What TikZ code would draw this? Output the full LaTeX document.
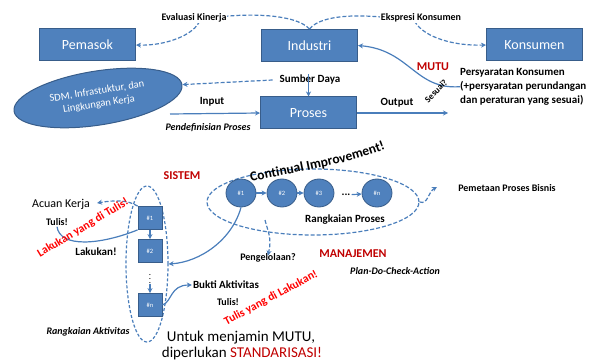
\documentclass[tikz,border=0pt]{standalone}
\usepackage{fontspec}
\setmainfont{Carlito}
\usetikzlibrary{shapes.geometric,arrows.meta,decorations.text}
\definecolor{boxblue}{HTML}{4F81BD}
\definecolor{boxedge}{HTML}{385D8A}
\definecolor{lineblue}{HTML}{4A7EBB}
\definecolor{dred}{HTML}{C00000}
\definecolor{bred}{HTML}{FF0000}
\tikzset{
 bluebox/.style={rectangle, fill=boxblue, draw=boxedge, line width=1pt, text=white, font=\fontsize{14}{16}\selectfont, minimum width=96pt, minimum height=32pt, inner sep=0pt},
 smallbox/.style={rectangle, fill=boxblue, draw=boxedge, line width=0.8pt, text=white, font=\fontsize{6.5}{7}\selectfont, minimum width=24pt, minimum height=23pt, inner sep=0pt},
 proc/.style={ellipse, fill=boxblue, draw=boxedge, line width=0.8pt, text=white, font=\fontsize{6.5}{7}\selectfont, minimum width=30pt, minimum height=28pt, inner sep=0pt},
 conn/.style={draw=lineblue, line width=1.2pt, -{Stealth[length=5pt,width=5pt]}},
 dconn/.style={conn, dash pattern=on 4pt off 2pt},
 plainline/.style={draw=lineblue, line width=1.2pt},
 lbl/.style={font=\bfseries\fontsize{10}{12}\selectfont, inner sep=1pt},
 lblb/.style={font=\bfseries\fontsize{11}{13}\selectfont, inner sep=1pt},
 lbli/.style={font=\bfseries\itshape\fontsize{10}{12}\selectfont, inner sep=1pt},
 redlbl/.style={font=\bfseries\fontsize{12}{14}\selectfont, text=dred, inner sep=1pt},
 rotred/.style={font=\bfseries\fontsize{11.5}{13}\selectfont, text=bred, inner sep=0pt},
}
\begin{document}
\begin{tikzpicture}[x=1pt,y=-1pt]
\useasboundingbox (0,0) rectangle (601,363);
% ---------- top part ----------
\node[bluebox] (pem) at (87.5,45) {Pemasok};
\node[bluebox] (ind) at (309.5,45.5) {Industri};
\node[bluebox] (kon) at (534.5,45) {Konsumen};
\node[bluebox] (pro) at (308.5,113) {Proses};
\node[ellipse, rotate=9, fill=boxblue, draw=boxedge, line width=1pt, text=white, minimum width=170pt, minimum height=54pt, inner sep=0pt, align=center, font=\fontsize{10.5}{13}\selectfont] (ell) at (98,98) {SDM, Infrastuktur, dan\\Lingkungan Kerja};

\draw[dconn] (ind.north) .. controls (295,13) and (240,12) .. (200,20) .. controls (195,35) and (165,46) .. (pem.east);
\draw[dconn] (ind.north) .. controls (322,13) and (370,13) .. (415,22) .. controls (425,38) and (455,46) .. (kon.west);
\node[lbl, fill=white] (eval) at (194,18) {Evaluasi Kinerja};
\node[lbl, fill=white] (eksp) at (421,18) {Ekspresi Konsumen};

\node[lblb] (sd) at (310,80) {Sumber Daya};
\draw[conn] (pro.north |- sd.north) -- (pro.north);
\draw[dconn] ([xshift=-6pt]sd.west) -- (ell.east);

\node[font=\bfseries\fontsize{11}{14}\selectfont, anchor=north west, align=left, inner sep=0pt] (pers) at (460,68) {Persyaratan Konsumen\\(+persyaratan perundangan\\dan peraturan yang sesuai)};
\draw[conn] (pers.west) .. controls (415,90) and (410,50) .. (ind.east);
\node[redlbl] (mutu) at (433,67) {MUTU};
\node[font=\bfseries\fontsize{9}{10}\selectfont, rotate=45, inner sep=0pt] (sesuai) at (436,91) {Sesuai?};

\coordinate (inp) at (170,114);
\coordinate (outp) at (448,113);
\draw[conn] (inp) -- (pro.west);
\draw[conn] (pro.east) -- (outp);
\node[lblb] (input) at (212,102) {Input};
\node[lblb] (output) at (397,103) {Output};
\node[lbli] (pdef) at (208,128) {Pendefinisian Proses};

% ---------- process chain ----------
\node[redlbl] (sistem) at (182,176) {SISTEM};
\node[ellipse, draw=lineblue, line width=1.2pt, dash pattern=on 4pt off 2pt, minimum width=212pt, minimum height=66pt, inner sep=0pt] (pe) at (313,202) {};
\node[proc] (c1) at (241,193) {\#1};
\node[proc] (c2) at (282,193) {\#2};
\node[proc] (c3) at (319,193) {\#3};
\node[font=\bfseries\fontsize{11}{12}\selectfont, inner sep=1pt] (cd) at (346,195) {...};
\node[proc] (cn) at (377,193) {\#n};
\draw[conn] (c1) -- (c2);
\draw[conn] (c2) -- (c3);
\draw[conn] (cd) -- (cn);
\node[lblb] (rpro) at (345,220) {Rangkaian Proses};
\path[decorate, decoration={text along path, text align=center, text={|\bfseries\fontsize{13.5}{15}\selectfont|Continual Improvement!}}] (238,185) .. controls (290,172) and (350,166) .. (398,144);
\coordinate (pm) at (437,187);
\draw[dconn] (pe.east) .. controls (428,205) and (428,192) .. (pm);
\node[lbl] (pmp) at (507,188) {Pemetaan Proses Bisnis};

\coordinate (pg0) at (265,220);
\node[lbl] (peng) at (268,258) {Pengelolaan?};
\draw[dconn] (pg0) .. controls (268,232) and (272,238) .. ([yshift=-3pt]peng.north);
\node[redlbl] (manaj) at (353,254) {MANAJEMEN};
\node[lbli] (pdca) at (395,271) {Plan-Do-Check-Action};

% ---------- activity chain ----------
\node[ellipse, draw=lineblue, line width=1.2pt, dash pattern=on 3pt off 2pt, minimum width=42pt, minimum height=156pt, inner sep=0pt] (ve) at (147,264) {};
\node[smallbox] (b1) at (150,218) {\#1};
\node[smallbox] (b2) at (150,251) {\#2};
\node[smallbox] (bn) at (150,305) {\#n};
\node[inner sep=0pt, font=\fontsize{9}{10}\selectfont] (vd) at (150,276) {$\vdots$};
\draw[conn] (b1) -- (b2);
\draw[conn] (vd.south) -- (bn.north);
\draw[conn] (c1.south) .. controls (232,240) and (200,262) .. (ve.east);

\node[font=\fontsize{12}{14}\selectfont, inner sep=1pt] (ak) at (61,204) {Acuan Kerja};
\node[lbl] (ak2) at (57,222) {Tulis!};
\draw[dconn, shorten >=6pt] (b1.north west) .. controls (128,200) and (115,200) .. (ak.east);
\draw[plainline] (ak2.south) .. controls (60,248) and (100,245) .. (b1.south west);
\node[lblb] (lak) at (96,252) {Lakukan!};
\node[rotred, rotate=31] (r1) at (83,228) {Lakukan yang di Tulis!};

\node[lblb] (bukti) at (226,285) {Bukti Aktivitas};
\node[lbl] (bt2) at (228,302) {Tulis!};
\draw[conn] (bn.east) .. controls (172,302) and (170,285) .. (bukti.west);
\node[rotred, rotate=28] (r2) at (271,298) {Tulis yang di Lakukan!};

\node[lbli] (rakt) at (88,332) {Rangkaian Aktivitas};
\node[font=\fontsize{15}{17}\selectfont, inner sep=0pt] (u1) at (241,338) {Untuk menjamin MUTU,};
\node[font=\fontsize{15}{17}\selectfont, inner sep=0pt] (u2) at (242,353.5) {diperlukan \textcolor{dred}{STANDARISASI!}};
\end{tikzpicture}
\end{document}
